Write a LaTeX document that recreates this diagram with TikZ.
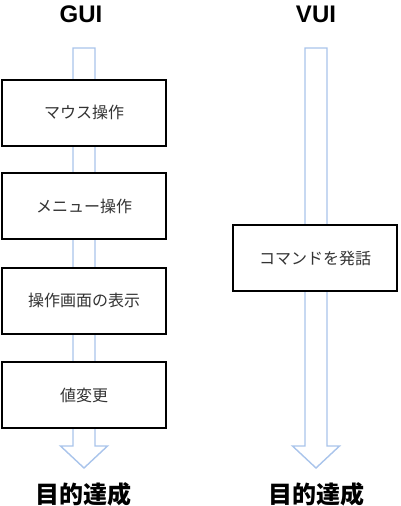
\documentclass[tikz,border=0pt]{standalone}
\usepackage{fontspec}
\setmainfont{Noto Sans CJK JP}
\newfontfamily\latinbold{Liberation Sans}
\usetikzlibrary{calc}
\definecolor{arrowblue}{HTML}{A9C4EB}
\definecolor{labelgray}{HTML}{333333}
\tikzset{
  stepbox/.style={draw=black, line width=2pt, fill=white, minimum width=164pt, minimum height=66pt, inner sep=0pt, font=\fontsize{16}{19}\selectfont, text=labelgray},
  title/.style={font=\latinbold\fontsize{24}{27}\selectfont\bfseries, text=black, inner sep=0pt},
  goal/.style={font=\fontsize{24}{27}\selectfont\bfseries, text=black, inner sep=0pt},
  blockarrow/.style={draw=arrowblue, line width=1.4pt, fill=white, line join=miter}
}
\begin{document}
\begin{tikzpicture}[x=1pt,y=-1pt]
\useasboundingbox (0,0) rectangle (400,506);
% block arrows
\coordinate (gtop) at (84,48);
\coordinate (gtip) at (84,468);
\coordinate (vtop) at (316,48);
\coordinate (vtip) at (316,468);
\foreach \a in {g,v}{
  \draw[blockarrow] ($(\a top)+(-11,0)$) -- ($(\a top)+(11,0)$) -- ($(\a tip)+(11,-22)$) -- ($(\a tip)+(23.5,-22)$) -- (\a tip) -- ($(\a tip)+(-23.5,-22)$) -- ($(\a tip)+(-11,-22)$) -- cycle;
}
% titles
\node[title] (gui) at (81,14) {GUI};
\node[title] (vui) at (316,14) {VUI};
\node[goal] (ggoal) at (83,494) {目的達成};
\node[goal] (vgoal) at (316,494) {目的達成};
% GUI steps
\node[stepbox] (b1) at (84,112.5) {マウス操作};
\node[stepbox] (b2) at (84,206) {メニュー操作};
\node[stepbox] (b3) at (84,300.5) {操作画面の表示};
\node[stepbox] (b4) at (84,395) {値変更};
% VUI step
\node[stepbox] (v1) at (315,258) {コマンドを発話};
\end{tikzpicture}
\end{document}
